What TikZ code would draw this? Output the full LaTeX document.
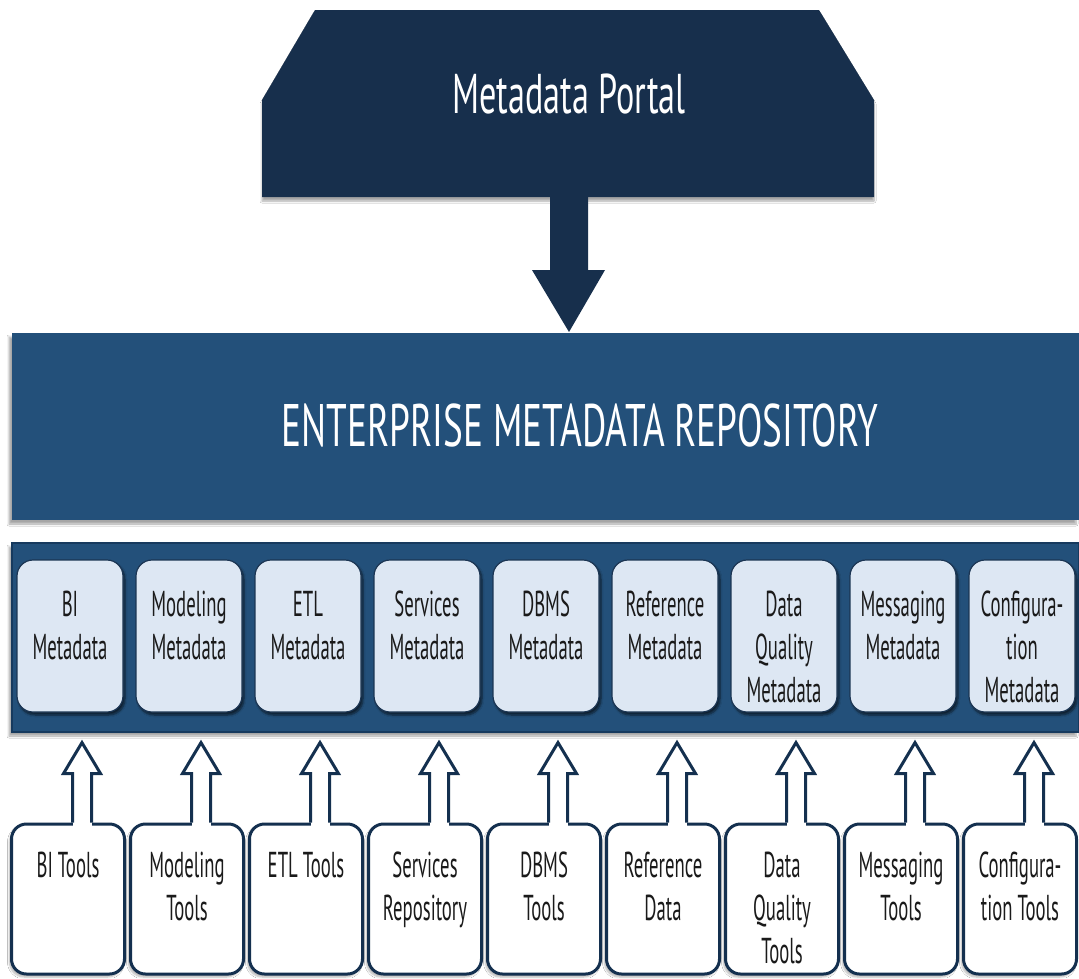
\documentclass[tikz,border=0pt]{standalone}
\usepackage{fontspec}
\setmainfont{PT Sans}[FakeStretch=0.52]
\newfontfamily\portalfont{PT Sans}[FakeStretch=0.61]
\newfontfamily\repofont{PT Sans}[FakeStretch=0.62]
\usetikzlibrary{calc,shadows.blur}
\definecolor{portalblue}{HTML}{172F4C}
\definecolor{repoblue}{HTML}{23507A}
\definecolor{banddark}{HTML}{173A5E}
\definecolor{boxfill}{HTML}{DDE7F3}
\definecolor{boxline}{HTML}{1B3553}
\definecolor{toolline}{HTML}{14304F}
\definecolor{txt}{HTML}{1A1A1A}
\tikzset{
  mbox/.style={draw=boxline, line width=1.2pt, fill=boxfill, rounded corners=16pt,
    minimum width=106pt, minimum height=152pt, inner sep=0pt,
    blur shadow={shadow xshift=2pt, shadow yshift=-3pt, shadow opacity=60, shadow blur steps=6}},
  tbox/.style={draw=toolline, line width=3pt, fill=white, rounded corners=15pt,
    minimum width=113pt, minimum height=150pt, inner sep=0pt,
    blur shadow={shadow xshift=-2pt, shadow yshift=-3pt, shadow opacity=30, shadow blur steps=5}},
  boxtext/.style={font=\fontsize{36}{43}\selectfont, text=txt, align=center, inner sep=0pt, anchor=north},
  toolarrow/.style={draw=toolline, line width=3pt, line join=miter},
}
\begin{document}
\begin{tikzpicture}[x=1pt,y=-1pt]
\useasboundingbox (0,0) rectangle (1079,978);
\fill[white] (0,0) rectangle (1079,978);

% Metadata Portal
\fill[portalblue, blur shadow={shadow xshift=0pt, shadow yshift=-4pt, shadow opacity=35, shadow blur steps=6}]
  (315,10) -- (819,10) -- (874,100) -- (874,197) -- (262,197) -- (262,100) -- cycle;
\node[font=\portalfont\fontsize{56}{60}\selectfont, text=white, anchor=base] (portal) at (569,113) {Metadata Portal};

% big arrow
\coordinate (pbot) at (569,195);
\coordinate (ptip) at (569,332);
\fill[portalblue] ($(pbot)+(-19,0)$) -- ($(pbot)+(19,0)$) -- ($(ptip)+(19,-62)$) -- ($(ptip)+(36,-62)$)
  -- (ptip) -- ($(ptip)+(-37,-62)$) -- ($(ptip)+(-19,-62)$) -- cycle;

% Repository
\node[fill=repoblue, minimum width=1067pt, minimum height=187pt, inner sep=0pt,
  blur shadow={shadow xshift=-3pt, shadow yshift=-4pt, shadow opacity=35, shadow blur steps=6}]
  (repo) at (545.5,426.5) {};
\node[font=\repofont\fontsize{60}{64}\selectfont, text=white, anchor=base] (repotext) at (580,446)
  {ENTERPRISE METADATA REPOSITORY};

% band
\node[fill=repoblue, draw=banddark, line width=1.5pt, minimum width=1067pt, minimum height=189pt, inner sep=0pt,
  blur shadow={shadow xshift=-3pt, shadow yshift=-4pt, shadow opacity=35, shadow blur steps=6}]
  (band) at (545.5,637.5) {};

\foreach \i/\mt/\tt in {
  1/{BI\\Metadata}/{BI Tools},
  2/{Modeling\\Metadata}/{Modeling\\Tools},
  3/{ETL\\Metadata}/{ETL Tools},
  4/{Services\\Metadata}/{Services\\Repository},
  5/{DBMS\\Metadata}/{DBMS\\Tools},
  6/{Reference\\Metadata}/{Reference\\Data},
  7/{Data\\Quality\\Metadata}/{Data\\Quality\\Tools},
  8/{Messaging\\Metadata}/{Messaging\\Tools},
  9/{Configura-\\tion\\Metadata}/{Configura-\\tion Tools}}{
  \pgfmathsetmacro{\mx}{70+119*(\i-1)}
  \pgfmathsetmacro{\tx}{68+119*(\i-1)}
  \node[mbox] (m\i) at (\mx,636) {};
  \node[boxtext] (m\i t) at ($(m\i.north)+(0,26.5)$) {\strut\mt};
  \node[tbox] (t\i) at (\tx,899) {};
  \node[boxtext] (t\i t) at ($(t\i.north)+(0,24.5)$) {\strut\tt};
  \coordinate (a\i) at ($(t\i.north)+(14,0)$);
  \coordinate (tip\i) at ($(a\i |- m\i.south)+(0,30)$);
  \fill[white] ($(a\i)+(-9.5,3)$) -- ($(a\i)+(-9.5,-49)$) -- ($(a\i)+(9.5,-49)$) -- ($(a\i)+(9.5,3)$) -- cycle;
  \draw[toolarrow] ($(a\i)+(-9.5,0)$) -- ($(a\i)+(-9.5,-49)$) -- ($(a\i)+(-18.5,-49)$) -- (tip\i)
    -- ($(a\i)+(18.5,-49)$) -- ($(a\i)+(9.5,-49)$) -- ($(a\i)+(9.5,0)$);
}
\end{tikzpicture}
\end{document}
